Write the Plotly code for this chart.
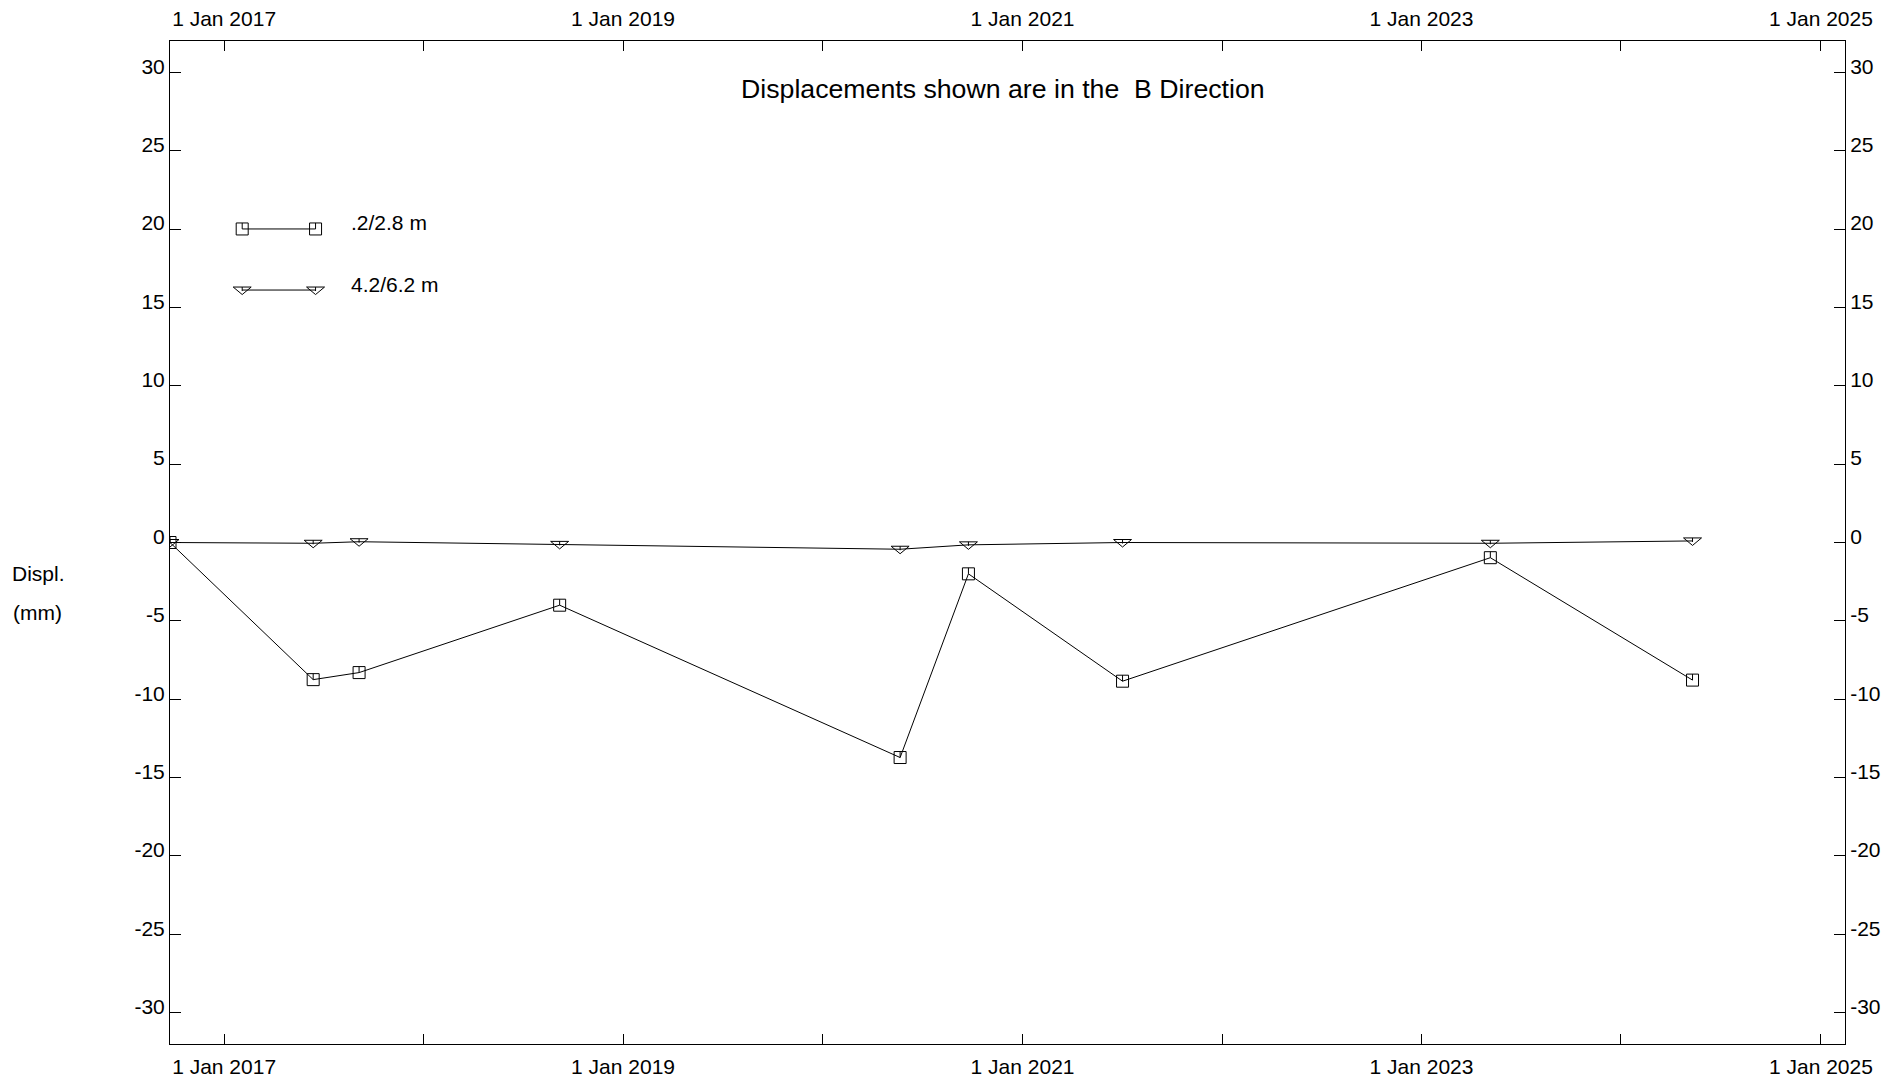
import plotly.graph_objects as go

# Survey dates (shared by both depth intervals)
dates = ['2016-09-24', '2017-06-13', '2017-09-05', '2018-09-07', '2020-05-22',
         '2020-09-24', '2021-07-03', '2023-05-07', '2024-05-11']

# Displacement in the B direction (mm)
disp_02_28 = [0.0, -8.75, -8.3, -4.0, -13.72, -2.0, -8.85, -0.97, -8.78]
disp_42_62 = [0.0, -0.05, 0.05, -0.12, -0.43, -0.15, 0.0, -0.05, 0.1]

series_names = ['.2/2.8 m', '4.2/6.2 m']

x_tickvals = ['2017-01-01', '2018-01-01', '2019-01-01', '2020-01-01', '2021-01-01',
              '2022-01-01', '2023-01-01', '2024-01-01', '2025-01-01']
x_ticktext = ['1 Jan 2017', '', '1 Jan 2019', '', '1 Jan 2021',
              '', '1 Jan 2023', '', '1 Jan 2025']
y_tickvals = [-30, -25, -20, -15, -10, -5, 0, 5, 10, 15, 20, 25, 30]
y_ticktext = ['-30', '-25', '-20', '-15', '-10', '-5', '0', '5', '10', '15', '20', '25', '30']

title_text = 'Displacements shown are in the \u00a0B Direction'
y_label_lines = ['Displ.', '(mm)']

FONT = 'Liberation Sans, Arial, sans-serif'
BLACK = '#000000'
X_RANGE = ['2016-09-24', '2025-02-14']
Y_RANGE = [-32, 32]

# Marker geometry in pixels (y positive = up)
SQUARE_PATH = 'M-6,-6 H6 V6 H-6 Z'
SQUARE_TICK = 'M0,6 V0'
TRI_PATH = 'M-9,3 L9,3 L0,-4.5 Z'
TRI_TICK = 'M0,3 V-1'


def marker_shape(path, xref, yref, xa, ya):
    return dict(type='path', path=path, xref=xref, yref=yref,
                xsizemode='pixel', ysizemode='pixel', xanchor=xa, yanchor=ya,
                line=dict(color=BLACK, width=1), fillcolor='rgba(0,0,0,0)',
                layer='above')


fig = go.Figure()

# Connecting lines for each series
fig.add_trace(go.Scatter(x=dates, y=disp_02_28, mode='lines',
                         line=dict(color=BLACK, width=1), name=series_names[0],
                         showlegend=False))
fig.add_trace(go.Scatter(x=dates, y=disp_42_62, mode='lines',
                         line=dict(color=BLACK, width=1), name=series_names[1],
                         showlegend=False))
# Invisible trace so the mirrored top/right axes are drawn
fig.add_trace(go.Scatter(x=dates, y=disp_02_28, xaxis='x2', yaxis='y2', mode='lines',
                         line=dict(color='rgba(0,0,0,0)', width=0),
                         hoverinfo='skip', showlegend=False))

shapes = []
for d, v in zip(dates, disp_02_28):
    shapes.append(marker_shape(SQUARE_PATH, 'x', 'y', d, v))
    shapes.append(marker_shape(SQUARE_TICK, 'x', 'y', d, v))
for d, v in zip(dates, disp_42_62):
    shapes.append(marker_shape(TRI_PATH, 'x', 'y', d, v))
    shapes.append(marker_shape(TRI_TICK, 'x', 'y', d, v))

# Key in the upper-left corner of the plot
key_x0, key_x1 = 0.0431, 0.0869
key_rows = [(0.8126, SQUARE_PATH, SQUARE_TICK), (0.7517, TRI_PATH, TRI_TICK)]
for yk, mpath, tpath in key_rows:
    shapes.append(dict(type='line', xref='paper', yref='paper',
                       x0=key_x0, x1=key_x1, y0=yk, y1=yk,
                       line=dict(color=BLACK, width=1)))
    for xk in (key_x0, key_x1):
        shapes.append(marker_shape(mpath, 'paper', 'paper', xk, yk))
        shapes.append(marker_shape(tpath, 'paper', 'paper', xk, yk))

annotations = [
    dict(text=title_text, xref='paper', yref='paper', x=0.4975, y=0.952,
         xanchor='center', yanchor='middle', showarrow=False,
         font=dict(family=FONT, size=26.7, color=BLACK)),
    dict(text=y_label_lines[0], xref='paper', yref='paper', x=-0.0955, y=0.4686,
         xanchor='left', yanchor='middle', showarrow=False,
         font=dict(family=FONT, size=21, color=BLACK)),
    dict(text=y_label_lines[1], xref='paper', yref='paper', x=-0.0947, y=0.4305,
         xanchor='left', yanchor='middle', showarrow=False,
         font=dict(family=FONT, size=21, color=BLACK)),
]
for (yk, _, _), name in zip(key_rows, series_names):
    annotations.append(dict(text=name, xref='paper', yref='paper', x=0.1071, y=yk + 0.006,
                            xanchor='left', yanchor='middle', showarrow=False,
                            font=dict(family=FONT, size=21, color=BLACK)))

x_common = dict(type='date', range=X_RANGE, tickmode='array', tickvals=x_tickvals,
                ticktext=x_ticktext, ticks='inside', ticklen=10, tickwidth=1,
                tickcolor=BLACK, showline=True, linecolor=BLACK, linewidth=1,
                showgrid=False, zeroline=False, automargin=False,
                tickfont=dict(family=FONT, size=21, color=BLACK))
y_common = dict(range=Y_RANGE, tickmode='array', tickvals=y_tickvals, ticktext=y_ticktext,
                ticks='inside', ticklen=11, tickwidth=1, tickcolor=BLACK,
                showline=True, linecolor=BLACK, linewidth=1, showgrid=False,
                zeroline=False, ticklabelshift=-6, ticklabelstandoff=0, automargin=False,
                tickfont=dict(family=FONT, size=21, color=BLACK))

fig.update_layout(
    width=1884, height=1079, autosize=False,
    margin=dict(l=170, r=39, t=41, b=35, pad=0),
    paper_bgcolor='white', plot_bgcolor='white',
    font=dict(family=FONT, color=BLACK),
    showlegend=False,
    xaxis=dict(side='bottom', anchor='y', ticklabelstandoff=4, **x_common),
    xaxis2=dict(side='top', anchor='y', overlaying='x', ticklabelstandoff=6, **x_common),
    yaxis=dict(side='left', anchor='x', **y_common),
    yaxis2=dict(side='right', anchor='x', overlaying='y', **y_common),
    shapes=shapes,
    annotations=annotations,
)

fig.write_html('out.html')
